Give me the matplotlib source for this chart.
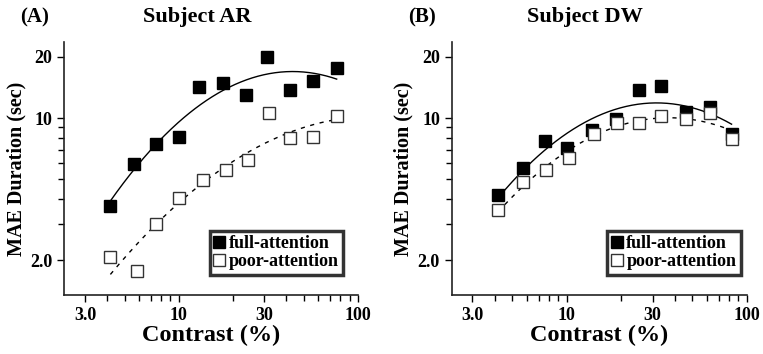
import numpy as np
import matplotlib
matplotlib.use('Agg')
import matplotlib.pyplot as plt
from matplotlib.ticker import LogLocator, FixedLocator, NullFormatter

plt.rcParams['font.family'] = ['Liberation Serif', 'DejaVu Serif']
plt.rcParams['font.weight'] = 'bold'

# Subject AR
ar_full_x = [4.12, 5.66, 7.47, 10.0, 13.0, 17.7, 23.7, 31.2, 42.1, 56.1, 76.3]
ar_full_y = [3.70, 5.94, 7.49, 8.04, 14.2, 14.9, 13.0, 20.0, 13.8, 15.3, 17.7]
ar_poor_x = [4.16, 5.86, 7.47, 10.1, 13.6, 18.4, 24.4, 31.9, 42.1, 56.6, 76.9]
ar_poor_y = [2.08, 1.78, 3.00, 4.03, 4.96, 5.59, 6.26, 10.6, 7.99, 8.08, 10.2]

# Subject DW
dw_full_x = [4.17, 5.71, 7.56, 10.1, 13.8, 18.8, 25.2, 33.4, 46.1, 62.3, 82.4]
dw_full_y = [4.17, 5.68, 7.75, 7.11, 8.77, 9.89, 13.75, 14.4, 10.7, 11.4, 8.35]
dw_poor_x = [4.17, 5.71, 7.72, 10.3, 14.2, 19.1, 25.2, 33.4, 46.1, 62.3, 82.4]
dw_poor_y = [3.52, 4.85, 5.59, 6.35, 8.35, 9.45, 9.45, 10.3, 9.89, 10.6, 7.90]

panels = [
    ('(A)', 'Subject AR', ar_full_x, ar_full_y, ar_poor_x, ar_poor_y, 0.95),
    ('(B)', 'Subject DW', dw_full_x, dw_full_y, dw_poor_x, dw_poor_y, 0.98),
]


def fit_curve(x, y):
    # quadratic fit in log-log space
    lx, ly = np.log10(x), np.log10(y)
    c = np.polyfit(lx, ly, 2)
    xs = np.linspace(lx.min(), lx.max(), 200)
    return 10 ** xs, 10 ** np.polyval(c, xs)


fig = plt.figure(figsize=(7.63, 3.54), dpi=100)
W, H = 763.0, 354.0
boxes = [(64.3, 357.7), (451.7, 746.7)]
top, bottom = 42.0, 295.0

for (lab, title, fx, fy, px, py, lx_right), (l, r) in zip(panels, boxes):
    ax = fig.add_axes([l / W, 1 - bottom / H, (r - l) / W, (bottom - top) / H])
    ax.set_xscale('log')
    ax.set_yscale('log')
    ax.set_xlim(2.3, 100)
    ax.set_ylim(1.35, 23.7)

    cx, cy = fit_curve(fx, fy)
    ax.plot(cx, cy, color='black', lw=1.0)
    cx, cy = fit_curve(px, py)
    ax.plot(cx, cy, color='black', lw=1.0, ls=(0, (3, 4)))

    ax.plot(fx, fy, 's', color='black', ms=9, mec='black', label='full-attention', zorder=3)
    ax.plot(px, py, 's', color='white', ms=8.5, mec='#333333', mew=1.0,
            label='poor-attention', zorder=3)

    for s in ['top', 'right']:
        ax.spines[s].set_visible(False)
    for s in ['left', 'bottom']:
        ax.spines[s].set_linewidth(1.2)
        ax.spines[s].set_color('#222222')

    ax.xaxis.set_major_locator(FixedLocator([3, 10, 30, 100]))
    ax.set_xticklabels(['3.0', '10', '30', '100'])
    ax.xaxis.set_minor_locator(LogLocator(base=10, subs=np.arange(2, 10)))
    ax.xaxis.set_minor_formatter(NullFormatter())
    ax.yaxis.set_major_locator(FixedLocator([2, 10, 20]))
    ax.set_yticklabels(['2.0', '10', '20'])
    ax.yaxis.set_minor_locator(LogLocator(base=10, subs=np.arange(2, 10)))
    ax.yaxis.set_minor_formatter(NullFormatter())
    ax.tick_params(which='both', direction='out', width=1.0, length=5, labelsize=13)
    ax.tick_params(which='minor', length=4)
    for t in ax.get_xticklabels() + ax.get_yticklabels():
        t.set_fontweight('bold')

    ax.set_xlabel('Contrast (%)', fontsize=17.5, fontweight='bold', labelpad=1)
    ax.set_ylabel('MAE Duration (sec)', fontsize=14.5, fontweight='bold', labelpad=3)

    leg = ax.legend(loc='lower right', bbox_to_anchor=(lx_right, 0.08), fontsize=13,
                    frameon=True, fancybox=False, handlelength=0.6, handletextpad=0.2,
                    borderpad=0.25, labelspacing=0.05, borderaxespad=0, markerscale=0.95)
    leg.get_frame().set_edgecolor('black')
    leg.get_frame().set_linewidth(2.5)
    for t in leg.get_texts():
        t.set_fontweight('bold')

    fig.text((l - 30) / W, 1 - 17 / H, lab, fontsize=15, fontweight='bold', va='center', ha='center')
    fig.text(((l + r) / 2 - 14) / W, 1 - 17 / H, title, fontsize=16, fontweight='bold',
             va='center', ha='center')

fig.savefig('out.png', dpi=100)
